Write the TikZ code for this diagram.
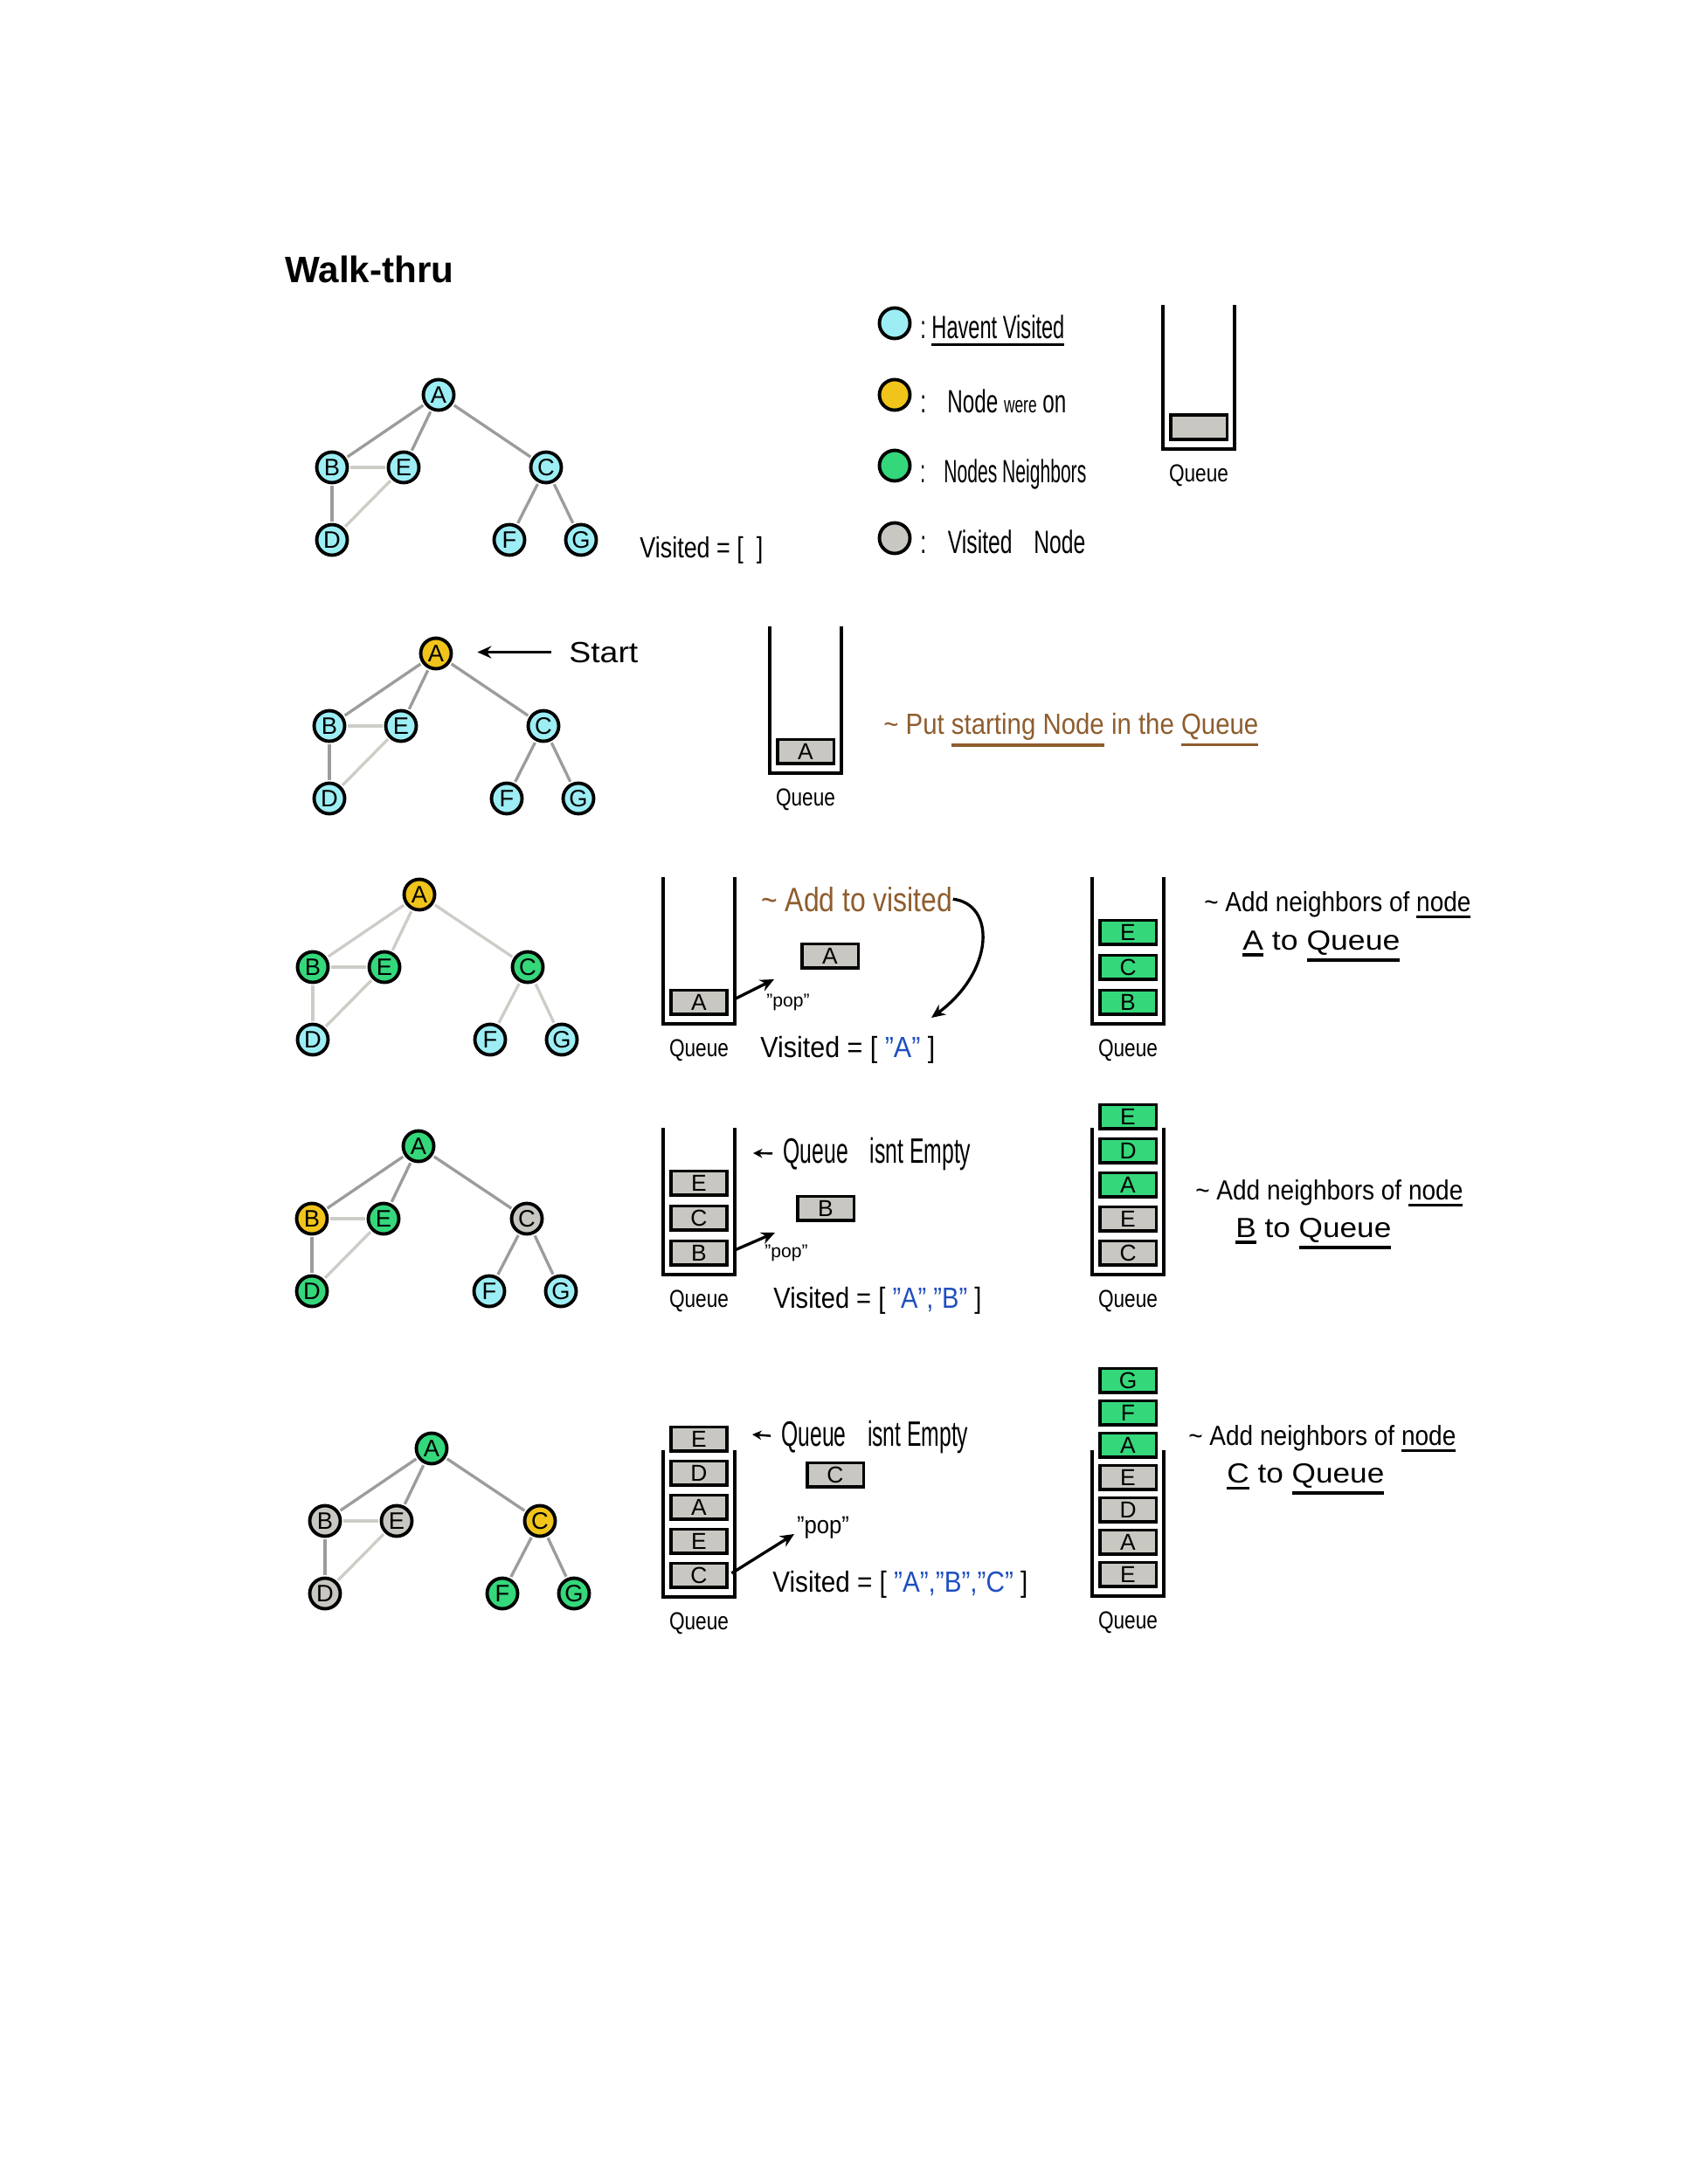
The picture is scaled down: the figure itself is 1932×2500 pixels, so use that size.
\documentclass[tikz,border=0pt]{standalone}
\usepackage{fontspec}
\setmainfont{Liberation Sans}
\usepackage{graphicx}
\usepackage{tikz}
\usetikzlibrary{positioning,arrows.meta}
\definecolor{NodeCyan}{HTML}{9CEEF4}
\definecolor{NodeYellow}{HTML}{F0C41B}
\definecolor{NodeGreen}{HTML}{35D77B}
\definecolor{NodeGrey}{HTML}{C9C7C1}
\definecolor{EdgeGrey}{HTML}{9C9C9C}
\definecolor{EdgeLight}{HTML}{CDCDC8}
\definecolor{NoteBrown}{HTML}{8E5D2E}
\definecolor{ListBlue}{HTML}{1F4FBF}

% one pixel of the sketch
\newlength{\pxu}\setlength{\pxu}{0.02cm}
\newcommand{\hw}[2]{\resizebox{#1\pxu}{\height}{#2}}
\newcommand{\undl}[1]{\vtop{\hbox{#1}\kern2.5pt\hrule height 2pt}}

\tikzset{
  gnode/.style={circle, draw=black, line width=2.2pt, minimum size=0.7cm, inner sep=0pt, font=\fontsize{15.5pt}{15.5pt}\selectfont},
  fresh/.style={fill=NodeCyan},
  curnode/.style={fill=NodeYellow},
  nbrnode/.style={fill=NodeGreen},
  seen/.style={fill=NodeGrey},
  tedge/.style={draw=EdgeGrey, line width=1.9pt, shorten <=1.1pt, shorten >=1.1pt},
  ledge/.style={draw=EdgeLight, line width=1.9pt, shorten <=1.1pt, shorten >=1.1pt},
  wall/.style={draw=black, line width=2.3pt},
  qbox/.style={rectangle, draw=black, line width=2pt, minimum width=1.29cm, minimum height=0.55cm, inner sep=0pt, font=\fontsize{15pt}{15pt}\selectfont},
  hand/.style={anchor=base west, inner sep=0pt, font=\fontsize{19pt}{22pt}\selectfont},
  note/.style={hand, text=NoteBrown},
  poptxt/.style={inner sep=0pt, font=\fontsize{12pt}{13pt}\selectfont},
  arr/.style={-{Stealth[length=9pt,width=8pt]}, line width=1.9pt},
  arrs/.style={-{Stealth[length=6pt,width=6pt]}, line width=1.4pt},
}

% name, centre x, top, bottom, step, items from the bottom up
\newcommand{\drawqueue}[6]{%
  \draw[wall] (#2-41,#3) |- (#2+41,#4) -- (#2+41,#3);
  \foreach \lab/\col [count=\i from 0] in {#6}
    \node[qbox, fill=\col] (#1-\i) at (#2,#4-25-#5*\i) {\lab};
  \node[inner sep=0pt, font=\fontsize{16pt}{16pt}\selectfont] (#1-lbl) at (#2,#4+30) {\hw{68}{Queue}};
}

% row name, style of the tree edges
\newcommand{\graphedges}[2]{%
  \foreach \ga/\gb/\w in {A/B/#2, A/E/#2, A/C/#2, B/D/#2, C/F/#2, C/G/#2, B/E/ledge, E/D/ledge}
    \draw[\w] (#1\ga) -- (#1\gb);
}

\begin{document}
\begin{tikzpicture}[x=0.02cm, y=-0.02cm]
  \fill[white] (0,0) rectangle (1932,2500);
  \node[anchor=base west, inner sep=0pt, font=\fontsize{24pt}{28pt}\selectfont\bfseries] (title) at (326,324) {Walk-thru};

  % key
  \foreach \s/\y in {fresh/370, curnode/452, nbrnode/533, seen/616}
    \node[gnode, \s] (key-\s) at (1024,\y) {};
  \node[hand, font=\fontsize{21pt}{24pt}\selectfont] (key-t1) at (1053,388) {\hw{165}{:\ \undl{Havent Visited}}};
  \node[hand, font=\fontsize{21pt}{24pt}\selectfont] (key-t2) at (1053,472) {\hw{167}{:\quad Node {\fontsize{15pt}{15pt}\selectfont were} on}};
  \node[hand, font=\fontsize{21pt}{24pt}\selectfont] (key-t3) at (1053,552) {\hw{190}{:\quad Nodes Neighbors}};
  \node[hand, font=\fontsize{21pt}{24pt}\selectfont] (key-t4) at (1053,633) {\hw{189}{:\quad Visited\quad Node}};
  \drawqueue{qkey}{1372}{349}{514}{39}{/NodeGrey}

  % row 1
  \foreach \n/\dx/\dy/\s in {A/0/0/fresh, B/-122/83/fresh, E/-40/83/fresh, C/123/83/fresh,
                             D/-122/166/fresh, F/81/166/fresh, G/163/166/fresh}
    \node[gnode, \s] (r1\n) at (\dx+502,\dy+452) {\n};
  \graphedges{r1}{tedge}
  \node[hand] (vis1) at (732,638) {\hw{141}{Visited = [\ \ ]}};

  % row 2
  \foreach \n/\dx/\dy/\s in {A/0/0/curnode, B/-122/83/fresh, E/-40/83/fresh, C/123/83/fresh,
                             D/-122/166/fresh, F/81/166/fresh, G/163/166/fresh}
    \node[gnode, \s] (r2\n) at (\dx+499,\dy+748) {\n};
  \graphedges{r2}{tedge}
  \node[hand] (start) at (651,758) {\hw{79}{Start}};
  \draw[arr, shorten <=20\pxu, shorten >=28\pxu] (start.west) -- (start.west -| r2A.east);
  \drawqueue{q2}{922}{717}{885}{39}{A/NodeGrey}
  \node[note] (put) at (1011,840) {\hw{429}{\textasciitilde\ Put \undl{starting Node} in the \undl{Queue}}};

  % row 3
  \foreach \n/\dx/\dy/\s in {A/0/0/curnode, B/-122/83/nbrnode, E/-40/83/nbrnode, C/124/83/nbrnode,
                             D/-122/166/fresh, F/81/166/fresh, G/163/166/fresh}
    \node[gnode, \s] (r3\n) at (\dx+480,\dy+1024) {\n};
  \graphedges{r3}{ledge}
  \drawqueue{q3l}{800}{1004}{1172}{39}{A/NodeGrey}
  \node[qbox, fill=NodeGrey] (pop3) at (950,1094) {A};
  \coordinate (pop3tip) at (886,1121);
  \draw[arr, shorten <=9\pxu] (q3l-0.east) -- (pop3tip);
  \node[poptxt] (pop3lbl) at (902,1147) {"pop"};
  \node[note, font=\fontsize{22pt}{26pt}\selectfont] (addvis) at (871,1043) {\hw{219}{\textasciitilde\ Add to visited}};
  \node[hand] (vis3) at (870,1210) {\hw{200}{Visited = [ {\color{ListBlue}"A"} ]}};
  \coordinate (vis3tip) at (1066,1165);
  \draw[arr] (addvis.east) .. controls (1140,1035) and (1138,1112) .. (vis3tip);
  \drawqueue{q3r}{1291}{1004}{1172}{40}{B/NodeGreen,C/NodeGreen,E/NodeGreen}
  \node[hand, font=\fontsize{18pt}{21pt}\selectfont] (nb3a) at (1378,1043) {\hw{305}{\textasciitilde\ Add neighbors of \undl{node}}};
  \node[hand, font=\fontsize{18pt}{21pt}\selectfont] (nb3b) at (1422,1087) {\hw{180}{\undl{A} to \undl{Queue}}};

  % row 4
  \foreach \n/\dx/\dy/\s in {A/0/0/nbrnode, B/-122/83/curnode, E/-40/83/nbrnode, C/124/83/seen,
                             D/-122/166/nbrnode, F/81/166/fresh, G/163/166/fresh}
    \node[gnode, \s] (r4\n) at (\dx+479,\dy+1312) {\n};
  \graphedges{r4}{tedge}
  \drawqueue{q4l}{800}{1291}{1459}{40}{B/NodeGrey,C/NodeGrey,E/NodeGrey}
  \node[hand, font=\fontsize{23pt}{26pt}\selectfont] (ne4) at (896,1331) {\hw{215}{Queue\quad isnt Empty}};
  \coordinate (ne4tip) at (862,1320);
  \draw[arrs, shorten <=12\pxu] (ne4.west) -- (ne4tip);
  \node[qbox, fill=NodeGrey] (pop4) at (945,1383) {B};
  \coordinate (pop4tip) at (887,1411);
  \draw[arr, shorten <=9\pxu] (q4l-0.east) -- (pop4tip);
  \node[poptxt] (pop4lbl) at (900,1434) {"pop"};
  \node[hand] (vis4) at (885,1497) {\hw{238}{Visited = [ {\color{ListBlue}"A","B"} ]}};
  \drawqueue{q4r}{1291}{1291}{1459}{39}{C/NodeGrey,E/NodeGrey,A/NodeGreen,D/NodeGreen,E/NodeGreen}
  \node[hand, font=\fontsize{18pt}{21pt}\selectfont] (nb4a) at (1368,1373) {\hw{306}{\textasciitilde\ Add neighbors of \undl{node}}};
  \node[hand, font=\fontsize{18pt}{21pt}\selectfont] (nb4b) at (1414,1416) {\hw{178}{\undl{B} to \undl{Queue}}};

  % row 5
  \foreach \n/\dx/\dy/\s in {A/0/0/nbrnode, B/-122/83/seen, E/-40/83/seen, C/124/83/curnode,
                             D/-122/166/seen, F/81/166/nbrnode, G/163/166/nbrnode}
    \node[gnode, \s] (r5\n) at (\dx+494,\dy+1658) {\n};
  \graphedges{r5}{tedge}
  \drawqueue{q5l}{800}{1660}{1828}{39}{C/NodeGrey,E/NodeGrey,A/NodeGrey,D/NodeGrey,E/NodeGrey}
  \node[hand, font=\fontsize{23pt}{26pt}\selectfont] (ne5) at (894,1655) {\hw{214}{Queue\quad isnt Empty}};
  \coordinate (ne5tip) at (861,1642);
  \draw[arrs, shorten <=12\pxu] (ne5.west) -- (ne5tip);
  \node[qbox, fill=NodeGrey] (pop5) at (956,1688) {C};
  \coordinate (pop5tip) at (909,1756);
  \draw[arr, shorten <=4\pxu] (q5l-0.east) -- (pop5tip);
  \node[poptxt, font=\fontsize{16pt}{18pt}\selectfont] (pop5lbl) at (942,1749) {\hw{60}{"pop"}};
  \node[hand] (vis5) at (884,1822) {\hw{292}{Visited = [ {\color{ListBlue}"A","B","C"} ]}};
  \drawqueue{q5r}{1291}{1660}{1827}{37}{E/NodeGrey,A/NodeGrey,D/NodeGrey,E/NodeGrey,A/NodeGreen,F/NodeGreen,G/NodeGreen}
  \node[hand, font=\fontsize{18pt}{21pt}\selectfont] (nb5a) at (1360,1654) {\hw{306}{\textasciitilde\ Add neighbors of \undl{node}}};
  \node[hand, font=\fontsize{18pt}{21pt}\selectfont] (nb5b) at (1404,1697) {\hw{180}{\undl{C} to \undl{Queue}}};
\end{tikzpicture}
\end{document}
